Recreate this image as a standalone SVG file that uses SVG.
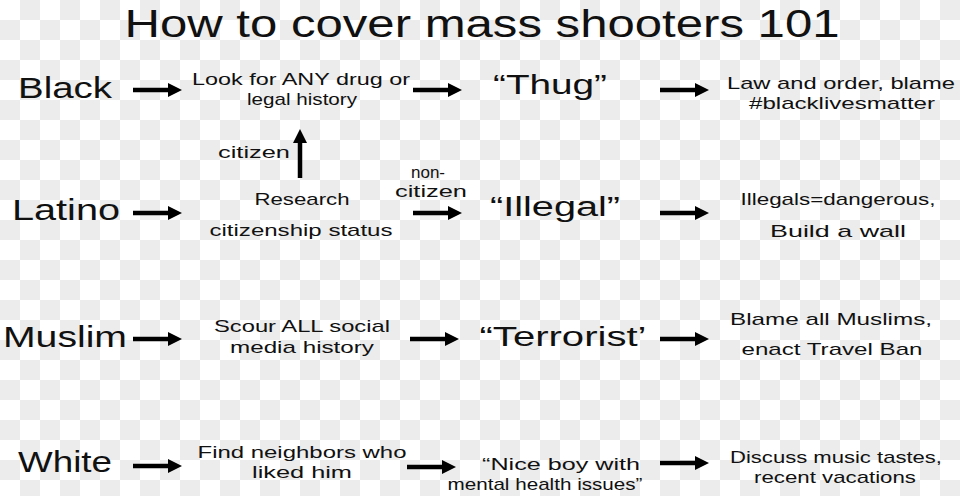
<svg xmlns="http://www.w3.org/2000/svg" width="960" height="496" viewBox="0 0 960 496">
<defs>
<pattern id="checker" width="40" height="40" patternUnits="userSpaceOnUse">
<rect width="40" height="40" fill="#ffffff"/>
<rect x="20" y="0" width="20" height="20" fill="#ececec"/>
<rect x="0" y="20" width="20" height="20" fill="#ececec"/>
</pattern>
<marker id="head" markerUnits="userSpaceOnUse" markerWidth="14" markerHeight="14" viewBox="0 0 14 14" refX="2" refY="7" orient="auto">
<path d="M0,0 L14,7 L0,14 Z" fill="#000"/>
</marker>
<style>
text{font-family:"Liberation Sans","DejaVu Sans",sans-serif;fill:#111;}
.title{font-size:38px;}
.big{font-size:29px;}
.small{font-size:17px;}
.q{font-size:27px;}
.c{text-anchor:middle;}
.arrow{stroke:#000;stroke-width:4.5;fill:none;marker-end:url(#head);}
</style>
</defs>
<rect width="960" height="496" fill="url(#checker)"/>
<g id="title"><text class="title c" x="482" y="37" textLength="715" lengthAdjust="spacingAndGlyphs">How to cover mass shooters 101</text></g>

<g id="connectors">
<line class="arrow" x1="133" y1="90" x2="170" y2="90"/>
<line class="arrow" x1="413" y1="90" x2="450" y2="90"/>
<line class="arrow" x1="660" y1="90" x2="697" y2="90"/>
<line class="arrow" x1="300" y1="178" x2="300" y2="141"/>
<line class="arrow" x1="133" y1="213" x2="170" y2="213"/>
<line class="arrow" x1="413" y1="213" x2="450" y2="213"/>
<line class="arrow" x1="660" y1="213" x2="697" y2="213"/>
<line class="arrow" x1="133" y1="339" x2="170" y2="339"/>
<line class="arrow" x1="410" y1="339" x2="447" y2="339"/>
<line class="arrow" x1="660" y1="339" x2="697" y2="339"/>
<line class="arrow" x1="133" y1="466" x2="170" y2="466"/>
<line class="arrow" x1="407" y1="467" x2="444" y2="467"/>
<line class="arrow" x1="660" y1="463" x2="697" y2="463"/>
<text class="small c" x="254" y="158" textLength="72" lengthAdjust="spacingAndGlyphs">citizen</text>
<text class="small c" x="428" y="178">non-</text>
<text class="small c" x="431" y="197" textLength="72" lengthAdjust="spacingAndGlyphs">citizen</text>
</g>

<g id="black"><text class="big c" x="65" y="98" textLength="94" lengthAdjust="spacingAndGlyphs">Black</text></g>
<g id="black-check"><text class="small c" x="301" y="85" textLength="218" lengthAdjust="spacingAndGlyphs">Look for ANY drug or</text><text class="small c" x="302" y="105" textLength="110" lengthAdjust="spacingAndGlyphs">legal history</text></g>
<g id="thug"><text class="q c" x="550" y="94" textLength="114" lengthAdjust="spacingAndGlyphs">“Thug”</text></g>
<g id="black-result"><text class="small c" x="841" y="89" textLength="228" lengthAdjust="spacingAndGlyphs">Law and order, blame</text><text class="small c" x="842" y="109" textLength="186" lengthAdjust="spacingAndGlyphs">#blacklivesmatter</text></g>

<g id="latino"><text class="big c" x="66" y="220" textLength="108" lengthAdjust="spacingAndGlyphs">Latino</text></g>
<g id="latino-check"><text class="small c" x="302" y="205" textLength="95" lengthAdjust="spacingAndGlyphs">Research</text><text class="small c" x="301" y="236" textLength="183" lengthAdjust="spacingAndGlyphs">citizenship status</text></g>
<g id="illegal"><text class="q c" x="555" y="216" textLength="130" lengthAdjust="spacingAndGlyphs">“Illegal”</text></g>
<g id="latino-result"><text class="small c" x="838" y="205" textLength="195" lengthAdjust="spacingAndGlyphs">Illegals=dangerous,</text><text class="small c" x="838" y="237" textLength="136" lengthAdjust="spacingAndGlyphs">Build a wall</text></g>

<g id="muslim"><text class="big c" x="65" y="347" textLength="124" lengthAdjust="spacingAndGlyphs">Muslim</text></g>
<g id="muslim-check"><text class="small c" x="302" y="332" textLength="176" lengthAdjust="spacingAndGlyphs">Scour ALL social</text><text class="small c" x="302" y="353" textLength="144" lengthAdjust="spacingAndGlyphs">media history</text></g>
<g id="terrorist"><text class="q c" x="563" y="346" textLength="167" lengthAdjust="spacingAndGlyphs">“Terrorist’</text></g>
<g id="muslim-result"><text class="small c" x="831" y="325" textLength="202" lengthAdjust="spacingAndGlyphs">Blame all Muslims,</text><text class="small c" x="832" y="355" textLength="181" lengthAdjust="spacingAndGlyphs">enact Travel Ban</text></g>

<g id="white"><text class="big c" x="65" y="472" textLength="94" lengthAdjust="spacingAndGlyphs">White</text></g>
<g id="white-check"><text class="small c" x="302" y="458" textLength="209" lengthAdjust="spacingAndGlyphs">Find neighbors who</text><text class="small c" x="302" y="478" textLength="100" lengthAdjust="spacingAndGlyphs">liked him</text></g>
<g id="niceboy"><text class="small c" x="561" y="470" textLength="158" lengthAdjust="spacingAndGlyphs">“Nice boy with</text><text class="small c" x="545" y="490" textLength="195" lengthAdjust="spacingAndGlyphs">mental health issues”</text></g>
<g id="white-result"><text class="small c" x="836" y="463" textLength="212" lengthAdjust="spacingAndGlyphs">Discuss music tastes,</text><text class="small c" x="835" y="483" textLength="162" lengthAdjust="spacingAndGlyphs">recent vacations</text></g>
</svg>
